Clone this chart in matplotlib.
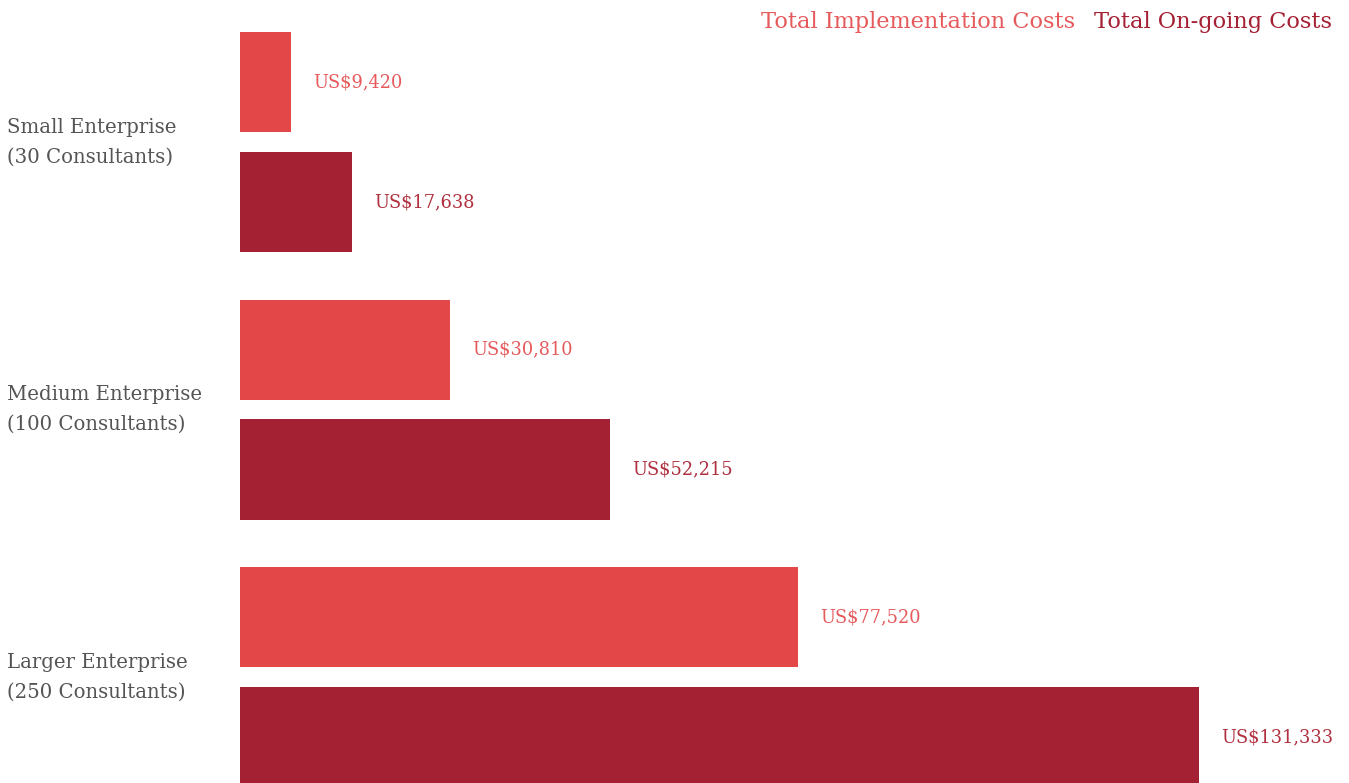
import matplotlib
matplotlib.use("Agg")
import matplotlib.pyplot as plt
import matplotlib.transforms as mtransforms
import numpy as np

# Data
categories = ["Small Enterprise\n(30 Consultants)",
              "Medium Enterprise\n(100 Consultants)",
              "Larger Enterprise\n(250 Consultants)"]
implementation = [9420, 30810, 77520]
ongoing = [17638, 52215, 131333]
series_names = ["Total Implementation Costs", "Total On-going Costs"]

impl_color = "#E44747"
ongo_color = "#A42033"
impl_text = "#E65A5C"
ongo_text = "#B0303F"
font = "DejaVu Serif"

fig = plt.figure(figsize=(13.49, 7.83), dpi=100)
ax = fig.add_axes([240 / 1349, 0, 1 - 240 / 1349, 1])

y = np.arange(len(categories))
off = 0.224
h = 0.374
ax.barh(y - off, implementation, height=h, color=impl_color)
ax.barh(y + off, ongoing, height=h, color=ongo_color)

# value labels
for yi, v in zip(y, implementation):
    ax.annotate("US${:,}".format(v), (v, yi - off), xytext=(16, 0),
                textcoords="offset points", va="center", ha="left",
                color=impl_text, fontsize=12.8, family=font)
for yi, v in zip(y, ongoing):
    ax.annotate("US${:,}".format(v), (v, yi + off), xytext=(16, 0),
                textcoords="offset points", va="center", ha="left",
                color=ongo_text, fontsize=12.8, family=font)

# category labels at the left edge of the figure
trans = mtransforms.blended_transform_factory(fig.transFigure, ax.transData)
for yi, c in zip(y, categories):
    ax.text(7 / 1349, yi, c, transform=trans, ha="left", va="center",
            color="#555555", fontsize=14.2, family=font, linespacing=1.7,
            clip_on=False)

ax.set_xlim(2580, 151480)
ax.set_ylim(2.396, -0.531)
ax.axis("off")

# legend as coloured text
fig.text(1075 / 1349, 1 - 22 / 783, series_names[0], ha="right", va="center",
         color=impl_text, fontsize=16.2, family=font)
fig.text(1332 / 1349, 1 - 22 / 783, series_names[1], ha="right", va="center",
         color=ongo_color, fontsize=16.2, family=font)

fig.savefig("out.png", dpi=100)
